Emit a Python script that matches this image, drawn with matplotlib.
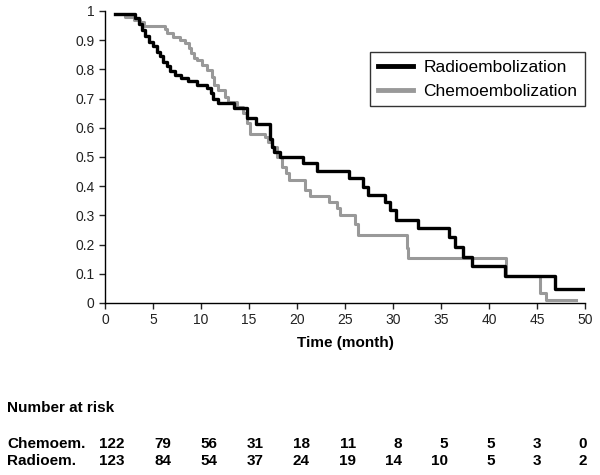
import numpy as np
import matplotlib
matplotlib.use("Agg")
import matplotlib.pyplot as plt

plt.rcParams['font.family'] = ['Liberation Sans', 'DejaVu Sans']

# Kaplan-Meier steps (time in months, survival)
radio_t = [1.0, 3.1, 3.5, 3.9, 4.2, 4.6, 5.0, 5.4, 5.7, 6.0, 6.5, 6.8, 7.3, 7.9,
           8.6, 9.6, 10.6, 11.0, 11.3, 11.8, 13.4, 14.8, 15.7, 17.2, 17.4, 17.6,
           18.2, 20.6, 22.05, 25.4, 26.9, 27.4, 29.2, 29.7, 30.3, 32.6, 35.8,
           36.5, 37.3, 38.2, 41.7, 46.9, 49.9]
radio_s = [0.99, 0.975, 0.955, 0.935, 0.915, 0.895, 0.88, 0.86, 0.845, 0.825,
           0.81, 0.795, 0.78, 0.77, 0.76, 0.745, 0.735, 0.72, 0.70, 0.685, 0.667,
           0.633, 0.613, 0.56, 0.535, 0.518, 0.50, 0.478, 0.453, 0.427, 0.398,
           0.370, 0.345, 0.317, 0.284, 0.256, 0.227, 0.193, 0.158, 0.128, 0.094,
           0.047, 0.047]

chemo_t = [1.0, 2.1, 3.0, 3.6, 4.1, 6.2, 6.5, 7.1, 7.8, 8.3, 8.7, 9.0, 9.3, 9.6,
           10.1, 10.6, 11.1, 11.4, 11.8, 12.5, 12.8, 13.7, 14.4, 14.8, 15.1,
           16.7, 17.0, 17.4, 17.9, 18.4, 18.9, 19.2, 20.8, 21.4, 23.3, 24.2,
           24.5, 26.0, 26.4, 31.5, 31.6, 41.8, 45.3, 45.9, 49.1]
chemo_s = [0.99, 0.98, 0.97, 0.963, 0.948, 0.94, 0.923, 0.912, 0.90, 0.889,
           0.872, 0.855, 0.84, 0.832, 0.815, 0.797, 0.775, 0.747, 0.729, 0.706,
           0.689, 0.672, 0.649, 0.615, 0.58, 0.57, 0.55, 0.535, 0.50, 0.466,
           0.444, 0.421, 0.387, 0.367, 0.347, 0.325, 0.302, 0.272, 0.233, 0.187,
           0.153, 0.094, 0.033, 0.01, 0.01]

# number at risk table
risk_groups = ["Chemoem.", "Radioem."]
risk_chemo = [122, 79, 56, 31, 18, 11, 8, 5, 5, 3, 0]
risk_radio = [123, 84, 54, 37, 24, 19, 14, 10, 5, 3, 2]

W, H = 600, 475
fig = plt.figure(figsize=(6, 4.75), dpi=100)
ax = fig.add_axes([105 / W, 1 - 303 / H, 480 / W, 292 / H])

l_chemo, = ax.step(chemo_t, chemo_s, where='post', color='#999999', lw=2.2,
                   label='Chemoembolization')
l_radio, = ax.step(radio_t, radio_s, where='post', color='black', lw=2.4,
                   label='Radioembolization')

ax.set_xlim(0, 50)
ax.set_ylim(0, 1)
ax.set_xticks(np.arange(0, 51, 5))
ax.set_yticks(np.arange(0, 1.01, 0.1))
ax.set_yticklabels(['0', '0.1', '0.2', '0.3', '0.4', '0.5', '0.6', '0.7', '0.8', '0.9', '1'])
for s in ['top', 'right']:
    ax.spines[s].set_visible(False)
for s in ['left', 'bottom']:
    ax.spines[s].set_linewidth(1.0)
ax.tick_params(direction='out', length=4, width=1, labelsize=10, colors='#222222')
ax.set_xlabel('Time (month)', fontsize=11, fontweight='bold', labelpad=6)

leg = ax.legend(handles=[l_radio, l_chemo], loc='upper right',
                bbox_to_anchor=(1.0, 0.86), fontsize=12.5, frameon=True,
                fancybox=False, edgecolor='black', handlelength=2.0,
                handletextpad=0.6, borderpad=0.45, labelspacing=0.5,
                borderaxespad=0.0)
leg.get_frame().set_linewidth(1.0)
for ln in leg.get_lines():
    ln.set_linewidth(3.5)

# number at risk
fig.text(7 / W, 1 - 408 / H, 'Number at risk', fontsize=11, fontweight='bold', va='center')
col_x = np.linspace(125, 587, len(risk_chemo))
for row, (name, vals) in enumerate(zip(risk_groups, [risk_chemo, risk_radio])):
    y = 1 - (444 + 17 * row) / H
    fig.text(7 / W, y, name, fontsize=11, fontweight='bold', va='center')
    for x, v in zip(col_x, vals):
        fig.text(x / W, y, str(v), fontsize=11, fontweight='bold', va='center', ha='right')

fig.savefig('out.png', dpi=100)
